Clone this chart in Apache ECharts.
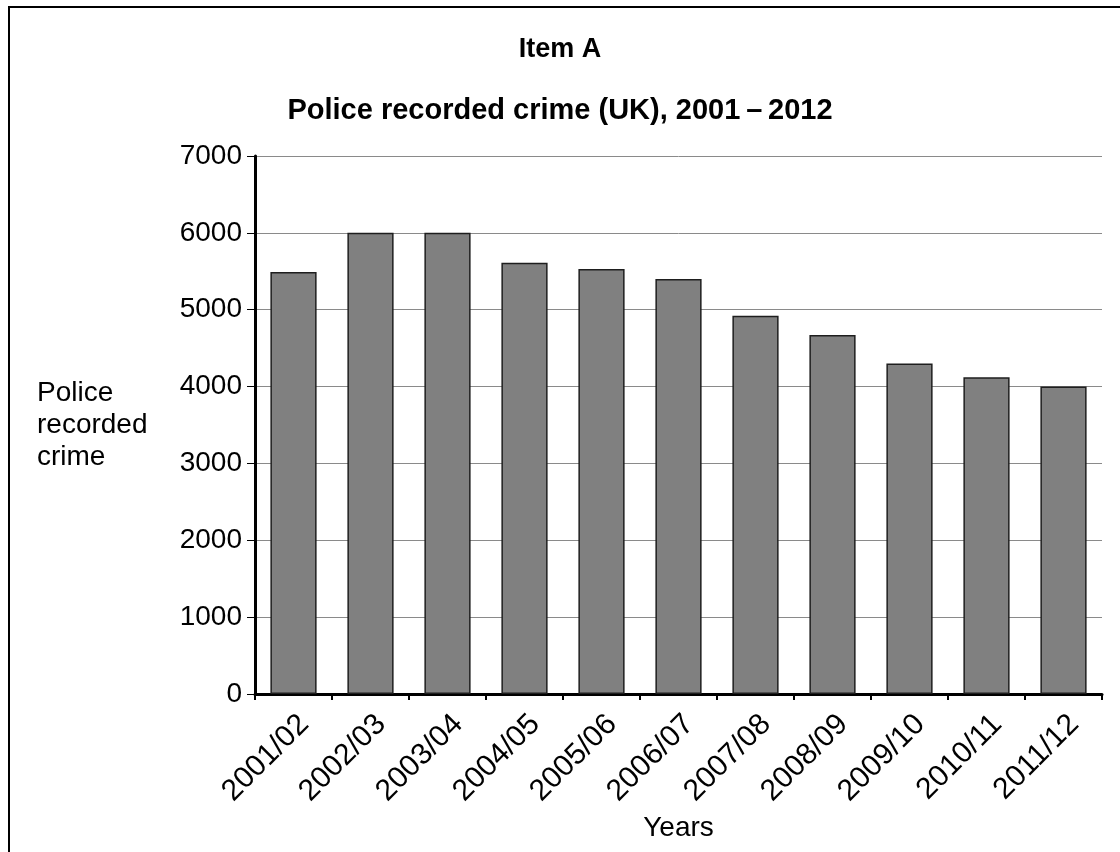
<!DOCTYPE html>
<html>
<head>
<meta charset="utf-8">
<title>Item A</title>
<script src="https://cdn.jsdelivr.net/npm/echarts@6/dist/echarts.min.js"></script>
<style>
  html, body { margin: 0; padding: 0; background: #fff; }
  #main { width: 1120px; height: 852px; }
</style>
</head>
<body>
<div id="main"></div>
<script>
// data
var years = ['2001/02', '2002/03', '2003/04', '2004/05', '2005/06', '2006/07',
             '2007/08', '2008/09', '2009/10', '2010/11', '2011/12'];
var crime = [5490, 6000, 6000, 5610, 5530, 5400, 4920, 4670, 4300, 4120, 4000];
var yTicks = [0, 1000, 2000, 3000, 4000, 5000, 6000, 7000];

var font = '"Liberation Sans", Arial, sans-serif';
var myChart = echarts.init(document.getElementById('main'), null, { renderer: 'canvas' });

var option = {
    backgroundColor: '#fff',
    animation: false,
    title: [
        {
            text: 'Item A',
            left: 'center',
            top: 31,
            textStyle: { fontFamily: font, fontSize: 27, fontWeight: 'bold', color: '#000' }
        },
        {
            text: 'Police recorded crime (UK), 2001\u2009\u2013\u20092012',
            left: 'center',
            top: 91,
            textStyle: { fontFamily: font, fontSize: 29, fontWeight: 'bold', color: '#000' }
        }
    ],
    graphic: [
        {
            type: 'rect',
            shape: { x: 9, y: 7, width: 1200, height: 1000 },
            style: { fill: 'none', stroke: '#000', lineWidth: 2 },
            silent: true
        }
    ],
    grid: { left: 255, right: 18, top: 156, bottom: 158 },
    xAxis: {
        type: 'category',
        data: years,
        name: 'Years',
        nameLocation: 'middle',
        nameGap: 117,
        nameTextStyle: { fontFamily: font, fontSize: 28, color: '#000' },
        axisLine: { lineStyle: { color: '#000', width: 3 } },
        axisTick: { show: true, length: 6, lineStyle: { color: '#000', width: 2 } },
        axisLabel: {
            rotate: 45,
            interval: 0,
            margin: 15,
            verticalAlign: 'top',
            fontFamily: font,
            fontSize: 30,
            color: '#000'
        }
    },
    yAxis: {
        type: 'value',
        min: yTicks[0],
        max: yTicks[yTicks.length - 1],
        interval: 1000,
        name: 'Police\nrecorded\ncrime',
        nameLocation: 'middle',
        nameRotate: 0,
        nameGap: 218,
        nameTextStyle: { fontFamily: font, fontSize: 28, lineHeight: 32, color: '#000', align: 'left' },
        axisLine: { show: true, lineStyle: { color: '#000', width: 3 } },
        axisTick: { show: true, length: 8, lineStyle: { color: '#000', width: 1 } },
        axisLabel: {
            margin: 13,
            fontFamily: font,
            fontSize: 28,
            color: '#000',
            formatter: function (v) { return String(v); }
        },
        splitLine: { show: true, lineStyle: { color: '#8a8a8a', width: 1 } }
    },
    series: [
        {
            type: 'bar',
            data: crime,
            barWidth: '60%',
            itemStyle: { color: '#808080', borderColor: '#1e1e1e', borderWidth: 1.5 }
        }
    ]
};

myChart.setOption(option);
</script>
</body>
</html>
